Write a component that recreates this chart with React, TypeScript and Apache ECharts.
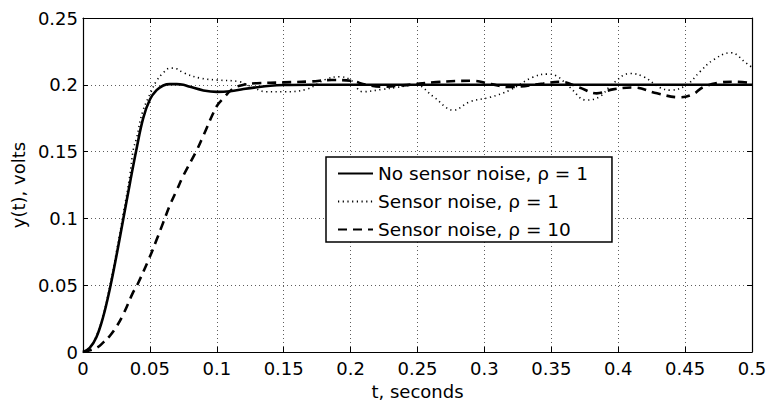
import React, { useEffect, useRef } from "react";
import * as echarts from "echarts";

const xTicks = [0, 0.05, 0.1, 0.15, 0.2, 0.25, 0.3, 0.35, 0.4, 0.45, 0.5];
const yTicks = [0, 0.05, 0.1, 0.15, 0.2, 0.25];

const seriesNames = [
  "No sensor noise, \u03c1 = 1",
  "Sensor noise, \u03c1 = 1",
  "Sensor noise, \u03c1 = 10",
];

const tSolid = [0, 0.005, 0.01, 0.015, 0.02, 0.025, 0.03, 0.035, 0.04, 0.045, 0.05, 0.055, 0.06, 0.065, 0.07, 0.075, 0.08, 0.09, 0.1, 0.11, 0.12, 0.13, 0.14, 0.15, 0.17, 0.5];
const ySolid = [0, 0.003, 0.011, 0.026, 0.047, 0.072, 0.099, 0.126, 0.152, 0.175, 0.189, 0.196, 0.1995, 0.2005, 0.2005, 0.2, 0.1985, 0.1958, 0.1947, 0.1952, 0.1968, 0.1982, 0.1993, 0.1998, 0.2, 0.2];

const tNoise1 = [0, 0.005, 0.01, 0.015, 0.02, 0.025, 0.03, 0.035, 0.0375, 0.04, 0.0446, 0.051, 0.055, 0.06, 0.065, 0.07, 0.075, 0.0875, 0.1, 0.117, 0.125, 0.137, 0.15, 0.167, 0.182, 0.192, 0.2, 0.209, 0.224, 0.234, 0.249, 0.262, 0.277, 0.289, 0.304, 0.319, 0.336, 0.347, 0.354, 0.364, 0.376, 0.386, 0.396, 0.409, 0.419, 0.431, 0.439, 0.451, 0.461, 0.471, 0.484, 0.496, 0.5];
const yNoise1 = [0, 0.003, 0.012, 0.027, 0.049, 0.075, 0.103, 0.132, 0.151, 0.16, 0.18, 0.195, 0.203, 0.209, 0.2125, 0.212, 0.209, 0.205, 0.2036, 0.2023, 0.199, 0.1948, 0.1948, 0.1966, 0.2043, 0.206, 0.2036, 0.1948, 0.1966, 0.198, 0.1998, 0.191, 0.181, 0.1873, 0.1906, 0.196, 0.2056, 0.208, 0.2066, 0.198, 0.1886, 0.191, 0.201, 0.2085, 0.206, 0.198, 0.196, 0.1998, 0.2097, 0.2186, 0.224, 0.216, 0.213];

const tNoise10 = [0, 0.01, 0.015, 0.02, 0.025, 0.03, 0.0376, 0.04, 0.049, 0.055, 0.06, 0.065, 0.07, 0.075, 0.085, 0.09, 0.1, 0.105, 0.112, 0.12, 0.13, 0.15, 0.17, 0.186, 0.2, 0.212, 0.224, 0.239, 0.264, 0.291, 0.305, 0.319, 0.344, 0.357, 0.371, 0.384, 0.396, 0.411, 0.429, 0.446, 0.456, 0.463, 0.474, 0.486, 0.5];
const yNoise10 = [0, 0.003, 0.007, 0.012, 0.019, 0.028, 0.045, 0.049, 0.069, 0.084, 0.097, 0.11, 0.121, 0.132, 0.151, 0.162, 0.184, 0.19, 0.197, 0.2, 0.2012, 0.2018, 0.2025, 0.2036, 0.203, 0.2, 0.1986, 0.1996, 0.202, 0.203, 0.2005, 0.1983, 0.201, 0.2023, 0.198, 0.1936, 0.1966, 0.198, 0.1936, 0.1906, 0.193, 0.198, 0.2013, 0.2023, 0.2013];

const FONT = "DejaVu Sans";
const FS = 18;

function pairs(t: number[], y: number[]) {
  return t.map((v, i) => [v, y[i]]);
}

function fmt(v: number) {
  return String(parseFloat(v.toFixed(3)));
}

export default function App() {
  const ref = useRef<HTMLDivElement>(null);
  useEffect(() => {
    document.body.style.margin = "0";
    const chart = echarts.init(ref.current!, null, { renderer: "svg" });
    const grid = { left: 83, right: 14, top: 18, bottom: 49, outerBoundsMode: "none", containLabel: false };
    const splitLine = { show: true, lineStyle: { color: "#333", width: 0.8, type: [1, 3] } };
    const axisLine = { show: true, onZero: false, lineStyle: { color: "#000", width: 1.2 } };
    const axisTick = { show: true, inside: true, length: 5, lineStyle: { color: "#000", width: 1 } };
    const xBase = { type: "value", min: 0, max: 0.5, interval: 0.05 };
    const yBase = { type: "value", min: 0, max: 0.25, interval: 0.05 };
    chart.setOption({
      animation: false,
      backgroundColor: "#fff",
      textStyle: { fontFamily: FONT },
      grid,
      legend: {
        orient: "vertical",
        left: 326,
        top: 157,
        padding: [7, 24, 3, 11],
        itemWidth: 35,
        itemHeight: 16,
        itemGap: 9,
        itemTextGap: 12,
        backgroundColor: "#fff",
        borderColor: "#000",
        borderWidth: 1.5,
        borderRadius: 0,
        itemStyle: { color: "rgba(0,0,0,0)", opacity: 0, borderWidth: 0 },
        textStyle: { fontFamily: FONT, fontSize: 18.5, color: "#000" },
        data: seriesNames,
      },
      xAxis: [
        {
          ...xBase,
          position: "bottom",
          name: "t, seconds",
          nameLocation: "middle",
          nameGap: 30,
          nameTextStyle: { fontFamily: FONT, fontSize: 18, lineHeight: 19, color: "#000" },
          axisLine,
          axisTick,
          splitLine,
          axisLabel: { show: true, margin: 7.5, fontFamily: FONT, fontSize: FS, color: "#000", formatter: (v: number) => fmt(v), customValues: xTicks },
        },
        {
          ...xBase,
          position: "top",
          axisLine,
          axisTick,
          splitLine: { show: false },
          axisLabel: { show: false },
        },
      ],
      yAxis: [
        {
          ...yBase,
          position: "left",
          name: "y(t), volts",
          nameLocation: "middle",
          nameGap: 45,
          nameTextStyle: { fontFamily: FONT, fontSize: 18, color: "#000" },
          axisLine,
          axisTick,
          splitLine,
          axisLabel: { show: true, margin: 5, fontFamily: FONT, fontSize: FS, color: "#000", formatter: (v: number) => fmt(v), customValues: yTicks },
        },
        {
          ...yBase,
          position: "right",
          axisLine,
          axisTick,
          splitLine: { show: false },
          axisLabel: { show: false },
        },
      ],
      series: [
        {
          name: seriesNames[0],
          type: "line",
          data: pairs(tSolid, ySolid),
          symbol: "none",
          smooth: 0.4,
          z: 5,
          lineStyle: { color: "#000", width: 2.6, type: "solid" },
          itemStyle: { color: "#000" },
        },
        {
          name: seriesNames[1],
          type: "line",
          data: pairs(tNoise1, yNoise1),
          symbol: "none",
          smooth: 0.4,
          z: 4,
          lineStyle: { color: "#000", width: 1.6, type: [1.2, 3.5], cap: "butt" },
          itemStyle: { color: "#000" },
        },
        {
          name: seriesNames[2],
          type: "line",
          data: pairs(tNoise10, yNoise10),
          symbol: "none",
          smooth: 0.4,
          z: 3,
          lineStyle: { color: "#000", width: 2.6, type: [9, 6], cap: "butt" },
          itemStyle: { color: "#000" },
        },
      ],
    });
    return () => chart.dispose();
  }, []);
  return <div ref={ref} style={{ width: 766, height: 401 }} />;
}
